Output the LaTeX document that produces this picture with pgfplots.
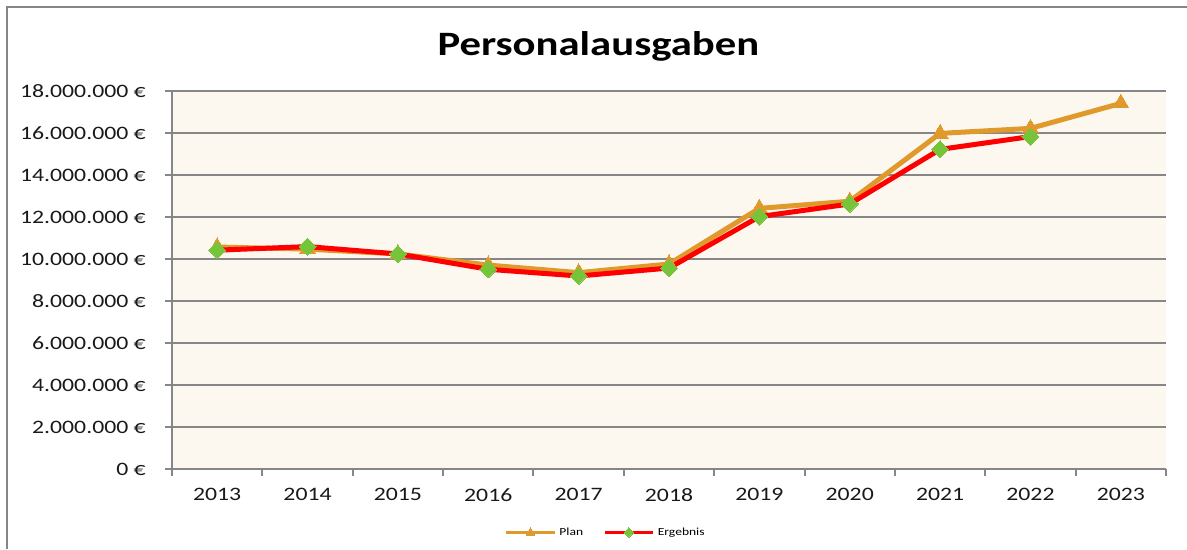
\documentclass[border=0pt]{standalone}
\usepackage{pgfplots}
\pgfplotsset{compat=1.18}
\usepackage{fontspec}
\setmainfont{Carlito}[FakeStretch=1.25]
\definecolor{plancol}{RGB}{224,153,43}
\definecolor{ergcol}{RGB}{255,0,0}
\definecolor{mkgreen}{RGB}{118,196,58}
\definecolor{bgcream}{RGB}{252,247,239}
\definecolor{gridgray}{RGB}{134,134,134}
\begin{document}
\begin{tikzpicture}
\useasboundingbox (0,0) rectangle (712.2pt,329.4pt);
\draw[gridgray, line width=1.2pt] (4.2pt,0) -- (4.2pt,325.2pt) -- (712.2pt,325.2pt);
\node[font=\fontsize{20.5}{24}\selectfont\bfseries] at (359pt,301.5pt) {Personalausgaben};
\begin{axis}[
  at={(103.2pt,48pt)}, anchor=south west,
  scale only axis, width=596.4pt, height=226.8pt,
  xmin=-0.5, xmax=10.5, ymin=0, ymax=18000000,
  scaled y ticks=false,
  axis x line=bottom, axis y line=left,
  axis line style={gridgray, line width=1.2pt, -},
  axis background/.style={fill=bgcream},
  xtick={0,...,10},
  xticklabels={2013,2014,2015,2016,2017,2018,2019,2020,2021,2022,2023},
  major x tick style={draw=none},
  minor xtick={-0.5,0.5,...,10.5},
  minor x tick style={gridgray, line width=1.2pt},
  minor tick length=4.2pt,
  ytick={0,2000000,4000000,6000000,8000000,10000000,12000000,14000000,16000000,18000000},
  yticklabels={0 €,2.000.000 €,4.000.000 €,6.000.000 €,8.000.000 €,10.000.000 €,12.000.000 €,14.000.000 €,16.000.000 €,18.000.000 €},
  major y tick style={gridgray, line width=1.2pt},
  major tick length=4.2pt,
  tick align=outside,
  ymajorgrids,
  grid style={gridgray, line width=1.2pt},
  tick label style={font=\fontsize{11.4}{13}\selectfont, text=black!90},
  yticklabel style={xshift=-8pt},
  xticklabel style={yshift=-4pt},
  clip=false,
  legend columns=2,
  legend style={at={(0.437,-0.168)}, anchor=center, draw=none, fill=none,
    font=\fontsize{6.5}{8}\selectfont, /tikz/every even column/.append style={column sep=10pt}},
  legend image code/.code={\draw[#1, line width=1.8pt, every mark/.append style={scale=0.55}, mark repeat=2, mark phase=2] plot coordinates {(0pt,0pt) (14.5pt,0pt) (29pt,0pt)};},
]
\addplot[plancol, line width=3pt, mark=triangle*, mark size=5.5pt, mark options={fill=plancol, draw=plancol, line width=0pt}]
  coordinates {(0,10570000) (1,10470000) (2,10240000) (3,9710000) (4,9350000) (5,9760000) (6,12410000) (7,12750000) (8,15980000) (9,16220000) (10,17410000)};
\addlegendentry{Plan}
\addplot[ergcol, line width=3pt, mark=square*, mark size=3.6pt, mark options={rotate=45, fill=mkgreen, draw=mkgreen, line width=0pt}]
  coordinates {(0,10420000) (1,10590000) (2,10240000) (3,9510000) (4,9190000) (5,9570000) (6,12020000) (7,12620000) (8,15220000) (9,15830000)};
\addlegendentry{Ergebnis}
\end{axis}
\end{tikzpicture}
\end{document}
